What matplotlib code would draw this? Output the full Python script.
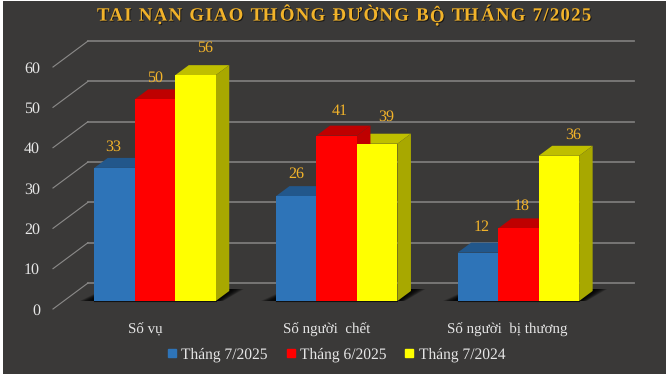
import matplotlib
import matplotlib.pyplot as plt
import matplotlib.patheffects as pe

matplotlib.use("Agg")

categories = ["Số vụ", "Số người  chết", "Số người  bị thương"]
series_names = ["Tháng 7/2025", "Tháng 6/2025", "Tháng 7/2024"]
thang_7_2025 = [33, 26, 12]
thang_6_2025 = [50, 41, 18]
thang_7_2024 = [56, 39, 36]
y_ticks = [0, 10, 20, 30, 40, 50, 60]
title_text = "TAI NẠN GIAO THÔNG ĐƯỜNG BỘ THÁNG 7/2025"

# label nudges in px (x right, y up from the bar top), one row per series
label_dx = [[-1.5, 0, 4], [0.5, 3, 3], [10, 9, 14]]
label_dy = [[23, 24, 27], [23, 26, 24.5], [28.5, 28, 23]]

BG = "#3a3938"
GOLD = "#f2b32a"
TEXT = "#e6e6e6"
GRID = "#7c7b7a"

# colours: front, top, side
STYLES = [("#2e74b8", "#22578b", "#22578b"),
          ("#ff0000", "#bf0000", "#bf0000"),
          ("#ffff00", "#bfbf00", "#a8a800")]

# one category = 181.7 px, one value unit = 4.033 px
PX_X = 181.7
PX_Y = 4.033
BAR_W = 40.5 / PX_X
DEPTH_X = 13.5 / PX_X
DEPTH_Y = 10 / PX_Y


def draw_shadow(ax, c):
    # soft floor shadow, stacked polygons so it fades outwards
    left = c - 1.5 * BAR_W
    right = c + 1.5 * BAR_W
    top = 12 / PX_Y
    n = 10
    for i in range(n):
        k = 1 - i / n
        tail = (14 * k + 0.5) / PX_X
        # right of the bars
        ax.fill([right, right + DEPTH_X, right + DEPTH_X + tail, right + 0.5 * tail],
                [0, top, top, 0], color="black", alpha=0.2, lw=0, zorder=2)
        # left of the bars
        ax.fill([left - tail, left, left],
                [0, 0, (2 + 5 * k) / PX_Y], color="black", alpha=0.2, lw=0, zorder=2)


def draw_bar(ax, x, v, style):
    front, top, side = style
    ax.bar(x, v, BAR_W, align="edge", color=front, lw=0, zorder=5)
    ax.fill([x, x + BAR_W, x + BAR_W + DEPTH_X, x + DEPTH_X],
            [v, v, v + DEPTH_Y, v + DEPTH_Y], color=top, lw=0, zorder=4)
    ax.fill([x + BAR_W, x + BAR_W + DEPTH_X, x + BAR_W + DEPTH_X, x + BAR_W],
            [0, DEPTH_Y, v + DEPTH_Y, v], color=side, lw=0, zorder=4)


def tracked_text(ax, x_px, y, text, track, **kw):
    # matplotlib has no letter spacing, so place the title letter by letter
    renderer = ax.figure.canvas.get_renderer()

    def width(s):
        t = ax.text(0, 0, s, **kw)
        w = t.get_window_extent(renderer).width
        t.remove()
        return w

    dot = width(".")
    for i, ch in enumerate(text):
        if ch == " ":
            continue
        x = x_px + width(text[:i] + ".") - dot + i * track
        t = ax.text((x - 155) / PX_X, y, ch, ha="left", va="center_baseline", zorder=8, **kw)
        t.set_path_effects([pe.withSimplePatchShadow(offset=(0.7, -0.7), shadow_rgbFace="black", alpha=0.6)])


plt.rcParams["font.family"] = ["Liberation Serif", "DejaVu Serif"]
plt.rcParams["text.hinting"] = "no_hinting"

fig = plt.figure(figsize=(6.66, 3.89), dpi=100, facecolor="white")
ax = fig.add_axes([3 / 666, 15 / 389, 663 / 666, 373 / 389], facecolor=BG)
ax.set_xlim((3 - 155) / PX_X, (666 - 155) / PX_X)
ax.set_ylim((301 - 374) / PX_Y, (301 - 1) / PX_Y)
ax.axis("off")
ax.add_patch(plt.Rectangle((0, 0), 1, 1, transform=ax.transAxes, color=BG, zorder=0))

# walls: back gridlines and the slanted part on the left
x_front = (53 - 155) / PX_X
x_back = (88 - 155) / PX_X
x_end = (634 - 155) / PX_X
for t in y_ticks:
    y_f = t - 8 / PX_Y
    y_b = t + 18 / PX_Y
    ax.plot([x_back, x_end], [y_b, y_b], color=GRID, lw=1.3, zorder=1)
    ax.plot([x_front, x_back], [y_f, y_b], color="#8c8b8a", lw=0.8, zorder=1)
    ax.text(x_front - 13 / PX_X, y_f, str(t), color=TEXT, fontsize=11.5,
            ha="right", va="center_baseline", zorder=7)

series = [thang_7_2025, thang_6_2025, thang_7_2024]
for c, name in enumerate(categories):
    draw_shadow(ax, c)
    # thin dark line along the bar feet
    ax.plot([c - 1.5 * BAR_W, c + 1.5 * BAR_W], [-0.1, -0.1], color="#111111", lw=0.8, zorder=3)
    for s in [2, 1, 0]:
        x = c + (s - 1.5) * BAR_W
        v = series[s][c]
        draw_bar(ax, x, v, STYLES[s])
        ax.text(x + BAR_W / 2 + label_dx[s][c] / PX_X, v + label_dy[s][c] / PX_Y, str(v),
                color=GOLD, fontsize=11.5, ha="center", va="center_baseline", zorder=7)
    ax.text(c - (9.5 + c) / PX_X, -27 / PX_Y, name, color=TEXT, fontsize=10.8, ha="center",
            va="center_baseline", zorder=7)

handles = [plt.Rectangle((0, 0), 1, 1, color=st[0]) for st in STYLES]
leg = ax.legend(handles, series_names, loc="center", frameon=False, fontsize=11.2, ncol=3,
                handlelength=0.52, handleheight=0.45, handletextpad=0.35, columnspacing=1.2,
                labelcolor=TEXT, bbox_to_anchor=(1.0, -13.3), bbox_transform=ax.transData)

tracked_text(ax, 97, (301 - 14) / PX_Y, title_text, 1.3,
             color=GOLD, fontsize=13.5, fontweight="bold")

fig.savefig("out.png", dpi=100)
